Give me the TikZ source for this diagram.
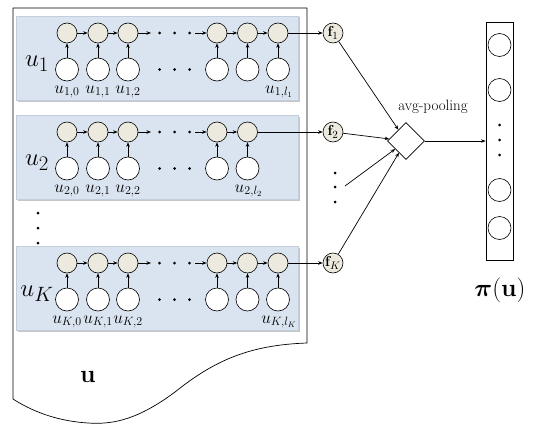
\documentclass[tikz,border=0pt]{standalone}
\usepackage{amsmath}
\usetikzlibrary{arrows.meta,shapes.geometric}
\definecolor{hidfill}{RGB}{236,234,222}
\definecolor{bandblue}{RGB}{218,227,240}
\definecolor{bandedge}{RGB}{196,205,220}
\begin{document}
\begin{tikzpicture}[x=1pt,y=-1pt,
  hid/.style={circle,draw,fill=hidfill,minimum size=20pt,inner sep=0pt,line width=0.6pt},
  inp/.style={circle,draw,fill=white,minimum size=23pt,inner sep=0pt,line width=0.6pt},
  fnode/.style={circle,draw,fill=hidfill,minimum size=20pt,inner sep=0pt,line width=0.6pt,font=\fontsize{15}{15}\selectfont},
  outc/.style={circle,draw,fill=white,minimum size=23pt,inner sep=0pt,line width=0.6pt},
  arr/.style={-{Stealth[length=4.5pt,width=3.5pt]},line width=0.7pt},
  band/.style={fill=bandblue,draw=bandedge,line width=0.4pt},
  dotn/.style={circle,fill=black,inner sep=0pt,minimum size=3pt},
  lab/.style={font=\fontsize{17}{17}\selectfont,inner sep=0pt},
  biglab/.style={font=\fontsize{32}{32}\selectfont,inner sep=0pt}
]
\useasboundingbox (0,0) rectangle (540,428);
% document shape
\draw[line width=0.7pt,fill=white] (13,399) -- (13,8) -- (307,8) -- (307,343)
  .. controls (250,345) and (215,360) .. (175,392)
  .. controls (140,418) and (115,425) .. (88,423)
  .. controls (55,421) and (30,410) .. (13,399) -- cycle;
\node[font=\fontsize{38}{38}\selectfont,inner sep=0pt] (ulab) at (88,377) {$\mathbf{u}$};
% rows
\foreach \r/\ty/\s/\n in {1/33/1/3, 2/132/2/2, 3/263/K/3} {
  \pgfmathsetmacro{\by}{\ty+36.5}
  \pgfmathsetmacro{\ly}{\ty+59}
  \pgfmathsetmacro{\bt}{\ty-17}
  \pgfmathsetmacro{\bb}{\ty+67}
  \fill[gray!45] (17.5,\bt+1.5) rectangle (299.5,\bb+1.5);
  \draw[band] (16,\bt) rectangle (298,\bb);
  \node[biglab] (U\r) at (37,\by-6) {$u_{\s}$};
  \foreach \i/\x in {0/67,1/98,2/128} {
    \node[hid] (t\r-\i) at (\x,\ty) {};
    \node[inp] (b\r-\i) at (\x,\by) {};
    \draw[arr] (b\r-\i) -- (t\r-\i);
  }
  \node[lab] (l\r-0) at (67,\ly) {$u_{\s,0}$};
  \node[lab] (l\r-1) at (98,\ly) {$u_{\s,1}$};
  \node[lab] (l\r-2) at (128,\ly) {$u_{\s,2}$};
  \draw[arr] (t\r-0) -- (t\r-1);
  \draw[arr] (t\r-1) -- (t\r-2);
  \coordinate (a\r) at (151,\ty);
  \coordinate (c\r) at (195,\ty);
  \draw[arr] (t\r-2) -- (a\r);
  \foreach \k/\dx in {1/159.5,2/174.5,3/189.5} {
    \node[dotn] (dt\r-\k) at (\dx,\ty) {};
    \node[dotn] (db\r-\k) at (\dx,\by) {};
  }
  \foreach \j in {1,...,\n} {
    \pgfmathsetmacro{\xx}{186.5+30.5*\j}
    \node[hid] (r\r-\j) at (\xx,\ty) {};
    \node[inp] (s\r-\j) at (\xx,\by) {};
    \draw[arr] (s\r-\j) -- (r\r-\j);
  }
  \draw[arr] (c\r) -- (r\r-1);
  \draw[arr] (r\r-1) -- (r\r-2);
  \ifnum\n=3 \draw[arr] (r\r-2) -- (r\r-3); \fi
  \node[lab] (ll\r) at ([xshift=1pt]s\r-\n.south |- 0,\ly) {$u_{\s,l_{\s}}$};
  \node[fnode] (f\r) at (333,\ty) {$\mathbf{f}_{\s}$};
  \draw[arr] (r\r-\n) -- (f\r);
}
% vertical dots left
\foreach \k/\yy in {1/213,2/228,3/243} { \node[dotn] (vl\k) at (38,\yy) {}; }
% pooling
\node[diamond,draw,fill=white,minimum width=37pt,minimum height=37pt,inner sep=0pt,line width=0.6pt] (pool) at (406,141) {};
\node[font=\fontsize{15}{15}\selectfont,inner sep=0pt] (plab) at (433,107) {avg-pooling};
\foreach \k/\yy in {1/173,2/187,3/202} { \node[dotn] (vf\k) at (335,\yy) {}; }
\coordinate (dd) at (345,186);
\draw[arr] (f1) -- (pool);
\draw[arr] (f2) -- (pool);
\draw[arr] (dd) -- (pool);
\draw[arr] (f3) -- (pool);
% output vector
\node[draw,line width=0.7pt,minimum width=27pt,minimum height=238pt,inner sep=0pt] (vec) at (499.5,141) {};
\foreach \k/\yy in {1/45,2/90,3/190,4/228} { \node[outc] (o\k) at (499.5,\yy) {}; }
\foreach \k/\yy in {1/125,2/140,3/155} { \node[dotn] (vd\k) at (499.5,\yy) {}; }
\draw[arr] (pool) -- (vec);
\node[font=\fontsize{29}{29}\selectfont,inner sep=0pt] (pilab) at (500,290) {$\boldsymbol{\pi}(\mathbf{u})$};
\end{tikzpicture}
\end{document}
